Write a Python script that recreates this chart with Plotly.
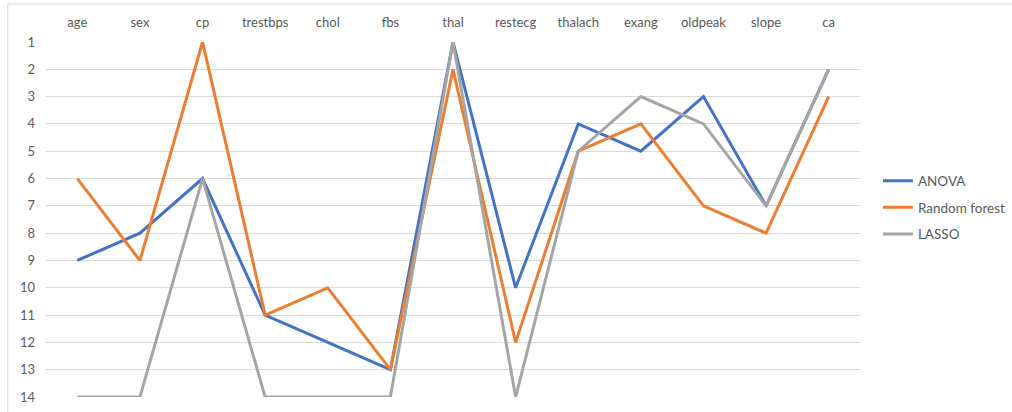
import plotly.graph_objects as go

features = ["age", "sex", "cp", "trestbps", "chol", "fbs", "thal",
            "restecg", "thalach", "exang", "oldpeak", "slope", "ca"]
anova_rank = [9, 8, 6, 11, 12, 13, 1, 10, 4, 5, 3, 7, 2]
rf_rank = [6, 9, 1, 11, 10, 13, 2, 12, 5, 4, 7, 8, 3]
lasso_rank = [14, 14, 6, 14, 14, 14, 1, 14, 5, 3, 4, 7, 2]
rank_ticks = list(range(1, 15))

series = [
    ("ANOVA", anova_rank, "#4472C4"),
    ("Random forest", rf_rank, "#ED7D31"),
    ("LASSO", lasso_rank, "#A5A5A5"),
]

FONT = "Lato, 'Liberation Sans', Arial, sans-serif"
TXT = "#595959"

fig = go.Figure()
for name, vals, color in series:
    fig.add_trace(go.Scatter(
        x=features, y=vals, name=name, mode="lines", legendgroup=name,
        line=dict(color=color, width=3),
    ))

fig.update_layout(
    width=1012, height=412,
    margin=dict(l=46, r=152, t=42, b=15, autoexpand=False),
    paper_bgcolor="white", plot_bgcolor="white",
    font=dict(family=FONT, size=13, color=TXT),
    showlegend=True,
    legend=dict(
        x=1.022, y=0.652, xanchor="left", yanchor="top",
        font=dict(family=FONT, size=13.5, color=TXT),
        bgcolor="rgba(0,0,0,0)", tracegroupgap=6, itemwidth=30,
        borderwidth=0,
    ),
    xaxis=dict(
        type="category", side="top", showgrid=False, showline=False,
        zeroline=False, ticks="", ticklabelstandoff=11,
        range=[-0.5, len(features) - 0.5],
        tickfont=dict(family=FONT, size=13, color=TXT),
    ),
    yaxis=dict(
        range=[14, 1], tickvals=rank_ticks, showgrid=True,
        gridcolor="#D9D9D9", gridwidth=1, zeroline=False, showline=False,
        ticks="", ticklabelstandoff=10,
        tickfont=dict(family=FONT, size=13, color=TXT),
    ),
)

# chart-area frame (top and left edges)
fig.add_shape(type="line", xref="paper", yref="paper",
              x0=-0.047, x1=1.2, y0=1.107, y1=1.107,
              line=dict(color="#D9D9D9", width=1))
fig.add_shape(type="line", xref="paper", yref="paper",
              x0=-0.047, x1=-0.047, y0=1.107, y1=-0.1,
              line=dict(color="#D9D9D9", width=1))

fig.write_html("out.html")
